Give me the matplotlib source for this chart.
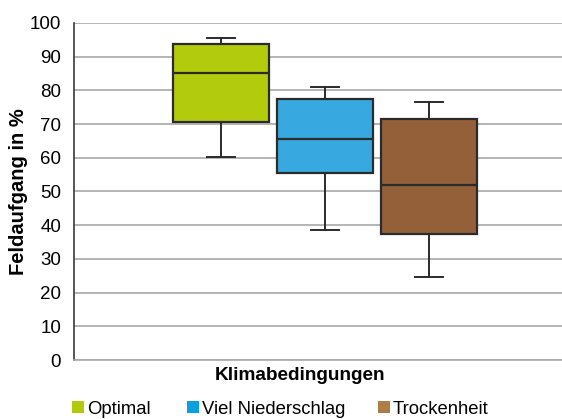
import matplotlib
matplotlib.use("Agg")
import matplotlib.pyplot as plt
from matplotlib.patches import Patch

# data (Feldaufgang in %)
categories = ["Optimal", "Viel Niederschlag", "Trockenheit"]
whisker_low = [60.1, 38.5, 24.6]
q1 = [70.5, 55.5, 37.3]
medians = [85.2, 65.7, 51.9]
q3 = [93.8, 77.4, 71.4]
whisker_high = [95.5, 81.0, 76.6]
y_ticks = [0, 10, 20, 30, 40, 50, 60, 70, 80, 90, 100]

box_colors = ["#b2cb0d", "#37a8e0", "#93603a"]
legend_colors = ["#b2c90e", "#0aa0e0", "#b07c48"]
legend_x = [72, 187, 378]  # left edge of each legend square, in pixels
edge = "#2b2b2b"

plt.rcParams["font.family"] = ["Liberation Sans", "DejaVu Sans"]

W, H = 562, 419
fig = plt.figure(figsize=(W / 100, H / 100), dpi=100)
ax = fig.add_axes([73.7 / W, 59 / H, 1 - 73.7 / W, 337 / H])

stats = []
for i, name in enumerate(categories):
    stats.append({
        "label": name,
        "whislo": whisker_low[i],
        "q1": q1[i],
        "med": medians[i],
        "q3": q3[i],
        "whishi": whisker_high[i],
        "fliers": [],
    })

bp = ax.bxp(
    stats,
    positions=[1, 2, 3],
    widths=0.92,
    patch_artist=True,
    showfliers=False,
    boxprops=dict(edgecolor=edge, linewidth=1.6),
    medianprops=dict(color=edge, linewidth=1.6),
    whiskerprops=dict(color=edge, linewidth=1.4),
    capprops=dict(color=edge, linewidth=1.4),
    capwidths=0.27,
    zorder=3,
)
for patch, c in zip(bp["boxes"], box_colors):
    patch.set_facecolor(c)

ax.set_xlim(-0.419, 4.276)
ax.set_ylim(0, 100)
ax.set_yticks(y_ticks)
ax.set_yticklabels([str(t) for t in y_ticks], fontsize=13.5)
ax.set_xticks([])
ax.tick_params(axis="y", length=0, pad=9)
ax.yaxis.grid(True, color="#a8a8a8", linewidth=1.2, zorder=0)
ax.set_axisbelow(True)
for side in ["top", "right"]:
    ax.spines[side].set_visible(False)
ax.spines["left"].set_color("#3a3a3a")
ax.spines["left"].set_linewidth(1.2)
ax.spines["bottom"].set_color("#a8a8a8")
ax.spines["bottom"].set_linewidth(1.2)

fig.text(19 / W, 1 - 192 / H, "Feldaufgang in %", rotation=90,
         ha="center", va="center", fontsize=14.5, fontweight="bold")
fig.text(300 / W, 1 - 375 / H, "Klimabedingungen",
         ha="center", va="center", fontsize=13.7, fontweight="bold")

for name, c, x in zip(categories, legend_colors, legend_x):
    fig.legend([Patch(facecolor=c, edgecolor="none")], [name],
               loc="center left", bbox_to_anchor=(x / W, 1 - 409 / H),
               frameon=False, fontsize=13.3, handlelength=0.65,
               handleheight=0.65, handletextpad=0.15, borderaxespad=0,
               borderpad=0)

fig.savefig("out.png", dpi=100)
